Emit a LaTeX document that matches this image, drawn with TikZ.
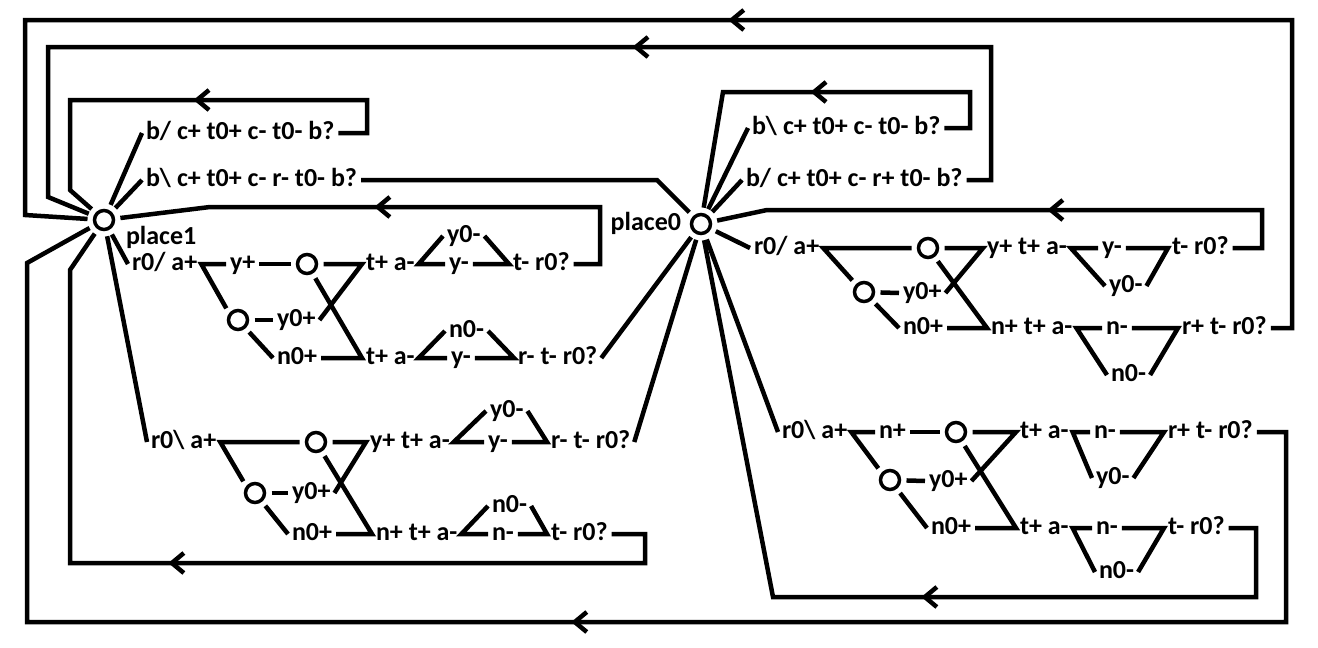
\documentclass[tikz,border=0pt]{standalone}
\usepackage{fontspec}
\newfontfamily\lblfont{Carlito}
\usetikzlibrary{arrows.meta,decorations.markings}
\newcommand{\bsl}{\textbackslash}

\begin{document}
\begin{tikzpicture}[x=1pt,y=-1pt,
  wire/.style={line width=4.5pt},
  flow/.style={wire,postaction={decorate,decoration={markings,
      mark=at position #1 with {\arrow{Straight Barb[length=12pt,width=20pt]}}}}},
  lbl/.style={font=\lblfont\bfseries\fontsize{26}{30}\selectfont,inner sep=1pt,outer sep=3pt,
      text height=19pt,text depth=6pt,anchor=west},
  hub/.style={circle,draw,line width=3.5pt,minimum size=19pt,inner sep=0pt,outer sep=7pt}]
  \useasboundingbox[fill=white] (0,0) rectangle (1318,648);

  % places
  \node[hub] (p1) at (104,220) {};
  \node[hub] (p0) at (701,224) {};
  \node[lbl] (pl1) at (122,238) {place1};
  \node[lbl,anchor=east] (pl0) at (685,224) {place0};

  % b branches
  \node[lbl] (b1) at (142,133) {b/ c+ t0+ c- t0- b?};
  \node[lbl] (b2) at (142,180) {b\bsl{} c+ t0+ c- r- t0- b?};
  \node[lbl] (b3) at (748,128) {b\bsl{} c+ t0+ c- t0- b?};
  \node[lbl] (b4) at (742,180) {b/ c+ t0+ c- r+ t0- b?};

  % junction circles
  \foreach \n/\x/\y in {l1u/307/264,l1d/238/320,l2u/316/442,l2d/255/493,
                       r1u/928/248,r1d/864/292,r2u/956/432,r2d/890/480}{
    \node[hub] (\n) at (\x,\y) {};
  }

  % left block, r0/
  \node[lbl] (l1a) at (128,264) {r0/ a+};
  \node[lbl] (l1y) at (226,264) {y+};
  \node[lbl] (l1yz) at (273,320) {y0+};
  \node[lbl] (l1nz) at (273,358) {n0+};
  \node[lbl] (l1t) at (362,264) {t+ a-};
  \node[lbl] (l1b) at (362,358) {t+ a-};
  \node[lbl] (l1s) at (443,236) {y0-};
  \node[lbl] (l1m) at (445,264) {y-};
  \node[lbl] (l1e) at (509,264) {t- r0?};
  \node[lbl] (l1ns) at (445,331) {n0-};
  \node[lbl] (l1my) at (447,358) {y-};
  \node[lbl] (l1f) at (514,358) {r- t- r0?};

  % left block, r0\
  \node[lbl] (l2a) at (147,442) {r0\bsl{} a+};
  \node[lbl] (l2yz) at (288,493) {y0+};
  \node[lbl] (l2nz) at (288,534) {n0+};
  \node[lbl] (l2t) at (366,442) {y+ t+ a-};
  \node[lbl] (l2b) at (372,534) {n+ t+ a-};
  \node[lbl] (l2s) at (486,411) {y0-};
  \node[lbl] (l2m) at (484,442) {y-};
  \node[lbl] (l2e) at (547,442) {r- t- r0?};
  \node[lbl] (l2ns) at (488,506) {n0-};
  \node[lbl] (l2mn) at (488,534) {n-};
  \node[lbl] (l2f) at (547,534) {t- r0?};

  % right block, r0/
  \node[lbl] (r1a) at (750,248) {r0/ a+};
  \node[lbl] (r1yz) at (899,293) {y0+};
  \node[lbl] (r1nz) at (899,328) {n0+};
  \node[lbl] (r1t) at (983,248) {y+ t+ a-};
  \node[lbl] (r1b) at (987,328) {n+ t+ a-};
  \node[lbl] (r1m) at (1098,248) {y-};
  \node[lbl] (r1s) at (1105,286) {y0-};
  \node[lbl] (r1e) at (1168,248) {t- r0?};
  \node[lbl] (r1mn) at (1102,328) {n-};
  \node[lbl] (r1ns) at (1107,375) {n0-};
  \node[lbl] (r1f) at (1178,328) {r+ t- r0?};

  % right block, r0\
  \node[lbl] (r2a) at (778,432) {r0\bsl{} a+};
  \node[lbl] (r2n) at (875,432) {n+};
  \node[lbl] (r2yz) at (925,481) {y0+};
  \node[lbl] (r2nz) at (927,528) {n0+};
  \node[lbl] (r2t) at (1016,432) {t+ a-};
  \node[lbl] (r2b) at (1016,528) {t+ a-};
  \node[lbl] (r2m) at (1090,432) {n-};
  \node[lbl] (r2s) at (1092,478) {y0-};
  \node[lbl] (r2e) at (1164,432) {r+ t- r0?};
  \node[lbl] (r2mb) at (1092,528) {n-};
  \node[lbl] (r2ns) at (1095,572) {n0-};
  \node[lbl] (r2f) at (1164,528) {t- r0?};

  % spokes
  \foreach \a/\b in {p1/b1,p1/b2,p1/l1a,p1/l2a,p0/b3,p0/b4,p0/r1a,p0/r2a}{
    \draw[wire] (\a) -- (\b.west);
  }
  \draw[wire] (b2.east) -- (657,180) -- (p0);
  \draw[wire] (l1f.east) -- (p0);
  \draw[wire] (l2e.east) -- (p0);

  % inner wiring of the blocks
  \draw[wire] (l1d.north west) -- (l1a.east) -- (l1y.west);
  \draw[wire] (l1y.east) -- (l1u);
  \draw[wire] (l1u) -- (l1t.west) -- (l1yz.east);
  \draw[wire] (l1u) -- (l1b.west) -- (l1nz.east);
  \draw[wire] (l1d) -- (l1yz.west);
  \draw[wire] (l1d) -- (l1nz.west);
  \draw[wire] (l1s.west) -- (l1t.east) -- (l1m.west);
  \draw[wire] (l1s.east) -- (l1e.west) -- (l1m.east);
  \draw[wire] (l1ns.west) -- (l1b.east) -- (l1my.west);
  \draw[wire] (l1ns.east) -- (l1f.west) -- (l1my.east);

  \draw[wire] (l2d.north west) -- (l2a.east) -- (l2u);
  \draw[wire] (l2u) -- (l2t.west) -- (l2yz.east);
  \draw[wire] (l2u) -- (l2b.west) -- (l2nz.east);
  \draw[wire] (l2d) -- (l2yz.west);
  \draw[wire] (l2d) -- (l2nz.west);
  \draw[wire] (l2s.west) -- (l2t.east) -- (l2m.west);
  \draw[wire] (l2s.east) -- (l2e.west) -- (l2m.east);
  \draw[wire] (l2ns.west) -- (l2b.east) -- (l2mn.west);
  \draw[wire] (l2ns.east) -- (l2f.west) -- (l2mn.east);

  \draw[wire] (r1d.north west) -- (r1a.east) -- (r1u);
  \draw[wire] (r1u) -- (r1t.west) -- (r1yz.east);
  \draw[wire] (r1u) -- (r1b.west) -- (r1nz.east);
  \draw[wire] (r1d) -- (r1yz.west);
  \draw[wire] (r1d) -- (r1nz.west);
  \draw[wire] (r1s.west) -- (r1t.east) -- (r1m.west);
  \draw[wire] (r1s.east) -- (r1e.west) -- (r1m.east);
  \draw[wire] (r1ns.west) -- (r1b.east) -- (r1mn.west);
  \draw[wire] (r1ns.east) -- (r1f.west) -- (r1mn.east);

  \draw[wire] (r2d.north west) -- (r2a.east) -- (r2n.west);
  \draw[wire] (r2n.east) -- (r2u);
  \draw[wire] (r2u) -- (r2t.west) -- (r2yz.east);
  \draw[wire] (r2u) -- (r2b.west) -- (r2nz.east);
  \draw[wire] (r2d) -- (r2yz.west);
  \draw[wire] (r2d) -- (r2nz.west);
  \draw[wire] (r2s.west) -- (r2t.east) -- (r2m.west);
  \draw[wire] (r2s.east) -- (r2e.west) -- (r2m.east);
  \draw[wire] (r2ns.west) -- (r2b.east) -- (r2mb.west);
  \draw[wire] (r2ns.east) -- (r2f.west) -- (r2mb.east);

  % returns
  \draw[flow=893pt] (r1f.east) -- (1292,328) -- (1292,20) -- (25,20) -- (25,215) -- (p1);
  \draw[flow=516pt] (b4.east) -- (991,180) -- (991,47) -- (48,47) -- (48,197) -- (p1);
  \draw[flow=235pt] (b1.east) -- (367,133) -- (367,100) -- (70,100) -- (70,190) -- (p1);
  \draw[flow=221pt] (b3.east) -- (970,128) -- (970,92) -- (723,92) -- (p0);
  \draw[flow=282pt] (r1e.east) -- (1262,248) -- (1262,210) -- (767,210) -- (p0);
  \draw[flow=309pt] (l1e.east) -- (600,264) -- (600,207) -- (210,207) -- (p1);
  \draw[flow=539pt] (l2f.east) -- (645,534) -- (645,563) -- (70,563) -- (70,270) -- (p1);
  \draw[flow=431pt] (r2f.east) -- (1256,528) -- (1256,597) -- (773,597) -- (p0);
  \draw[flow=934pt] (r2e.east) -- (1286,432) -- (1286,622) -- (27,622) -- (27,263) -- (p1);
\end{tikzpicture}
\end{document}
